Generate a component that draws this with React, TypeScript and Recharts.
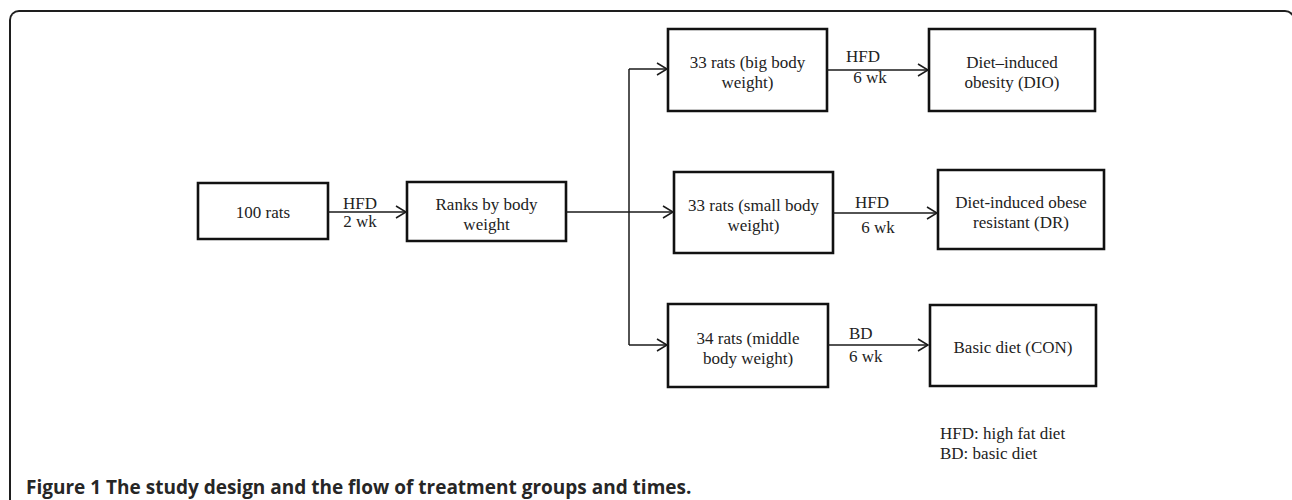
import React from "react";
import { ComposedChart, XAxis, YAxis, ReferenceArea, ReferenceLine, Scatter } from "recharts";

const W = 1292;
const H = 500;

// ---- Diagram data (diagram units: the figure's own 1292 x 500 grid) ----
const boxLabels: string[][] = [
  ["100 rats"],
  ["Ranks by body", "weight"],
  ["33 rats (big body", "weight)"],
  ["33 rats (small body", "weight)"],
  ["34 rats (middle", "body weight)"],
  ["Diet\u2013induced", "obesity (DIO)"],
  ["Diet-induced obese", "resistant (DR)"],
  ["Basic diet (CON)"],
];
const boxLeft = [198, 407, 668, 674, 668, 929, 938, 930];
const boxRight = [328, 566, 827, 833, 828, 1095, 1104, 1096];
const boxTop = [183, 182, 29, 172, 304, 29, 170, 305];
const boxBottom = [239, 241, 111, 253, 387, 111, 249, 386];

const edgeFrom: [number, number][] = [
  [328, 212], [566, 212], [629, 69], [629, 69], [629, 345], [827, 70], [833, 213], [828, 345],
];
const edgeTo: [number, number][] = [
  [406, 212], [673, 212], [629, 345], [667, 69], [667, 345], [928, 70], [937, 213], [928, 345],
];
const arrowEdges = [0, 1, 3, 4, 5, 6, 7];

const edgeLabelText = ["HFD", "2 wk", "HFD", "6 wk", "HFD", "6 wk", "BD", "6 wk"];
const edgeLabelX = [360, 360, 863, 870, 872, 878, 849, 849];
const edgeLabelY = [203, 221, 56, 77, 202, 227, 333, 356];
const edgeLabelAnchor = ["middle", "middle", "middle", "middle", "middle", "middle", "start", "start"];

const legendLines = ["HFD: high fat diet", "BD: basic diet"];
const legendX = [940, 940];
const legendY = [433, 453];

const captionBold = "Figure 1";
const captionRest = " The study design and the flow of treatment groups and times.";
const captionX = 26;
const captionY = 494;

// ---- derived tables for the library ----
const serif = "'Liberation Serif', 'Times New Roman', serif";
const textColor = "#222";

type TextItem = { x: number; y: number; lines: string[]; anchor: string; kind: string };

const boxTextData: TextItem[] = boxLabels.map((lines, i) => ({
  x: (boxLeft[i] + boxRight[i]) / 2,
  y: (boxTop[i] + boxBottom[i]) / 2,
  lines,
  anchor: "middle",
  kind: "box",
}));

const edgeTextData: TextItem[] = edgeLabelText.map((t, i) => ({
  x: edgeLabelX[i],
  y: edgeLabelY[i],
  lines: [t],
  anchor: edgeLabelAnchor[i],
  kind: "plain",
}));

const legendData: TextItem[] = legendLines.map((t, i) => ({
  x: legendX[i],
  y: legendY[i],
  lines: [t],
  anchor: "start",
  kind: "plain",
}));

const captionData = [{ x: captionX, y: captionY }];

const arrowData = arrowEdges.map((e) => ({ x: edgeTo[e][0], y: edgeTo[e][1] }));

const TextShape = (props: any) => {
  const { cx, cy, payload } = props;
  const p = payload as TextItem;
  const n = p.lines.length;
  const lh = 20;
  const off = p.kind === "box" ? (n > 1 ? 2 : 1) : 0;
  return (
    <text
      x={cx}
      textAnchor={p.anchor as any}
      fontFamily={serif}
      fontSize={17}
      fill={textColor}
      dominantBaseline="central"
    >
      {p.lines.map((l, i) => (
        <tspan key={i} x={cx} y={cy + off + (i - (n - 1) / 2) * lh}>
          {l}
        </tspan>
      ))}
    </text>
  );
};

const ArrowShape = (props: any) => {
  const { cx, cy } = props;
  return (
    <path
      d={`M${cx - 10},${cy - 6} L${cx},${cy} L${cx - 10},${cy + 6}`}
      fill="none"
      stroke="#1a1a1a"
      strokeWidth={1.5}
    />
  );
};

const CaptionShape = (props: any) => {
  const { cx, cy } = props;
  return (
    <text x={cx} y={cy} fontFamily="'Open Sans', 'Noto Sans', sans-serif" fontWeight="bold" fontSize={19} fill="#262626">
      <tspan>{captionBold}</tspan>
      <tspan>{captionRest}</tspan>
    </text>
  );
};

export default function App() {
  return (
    <div style={{ position: "absolute", left: 0, top: 0, width: W, height: H, overflow: "hidden", background: "#fff" }}>
      <div
        style={{
          position: "absolute",
          left: 9,
          top: 10,
          width: W - 6,
          height: H + 20,
          boxSizing: "border-box",
          border: "2px solid #1e1e1e",
          borderBottom: "none",
          borderRadius: "10px 10px 0 0",
        }}
      />
      <div style={{ position: "absolute", left: 0, top: 0 }}>
        <ComposedChart width={W} height={H} margin={{ top: 0, right: 0, bottom: 0, left: 0 }}>
          <XAxis type="number" dataKey="x" domain={[0, W]} allowDataOverflow hide />
          <YAxis type="number" dataKey="y" domain={[0, H]} allowDataOverflow reversed hide />
          {edgeFrom.map((f, i) => (
            <ReferenceLine
              key={`e${i}`}
              segment={[{ x: f[0], y: f[1] }, { x: edgeTo[i][0], y: edgeTo[i][1] }]}
              stroke="#1a1a1a"
              strokeWidth={1.5}
              ifOverflow="visible"
            />
          ))}
          {boxLabels.map((_, i) => (
            <ReferenceArea
              key={`b${i}`}
              x1={boxLeft[i]}
              x2={boxRight[i]}
              y1={boxTop[i]}
              y2={boxBottom[i]}
              fill="#ffffff"
              fillOpacity={1}
              stroke="#111"
              strokeWidth={2.6}
              ifOverflow="visible"
            />
          ))}
          <Scatter data={arrowData} shape={<ArrowShape />} isAnimationActive={false} />
          <Scatter data={boxTextData} shape={<TextShape />} isAnimationActive={false} />
          <Scatter data={edgeTextData} shape={<TextShape />} isAnimationActive={false} />
          <Scatter data={legendData} shape={<TextShape />} isAnimationActive={false} />
          <Scatter data={captionData} shape={<CaptionShape />} isAnimationActive={false} />
        </ComposedChart>
      </div>
    </div>
  );
}
